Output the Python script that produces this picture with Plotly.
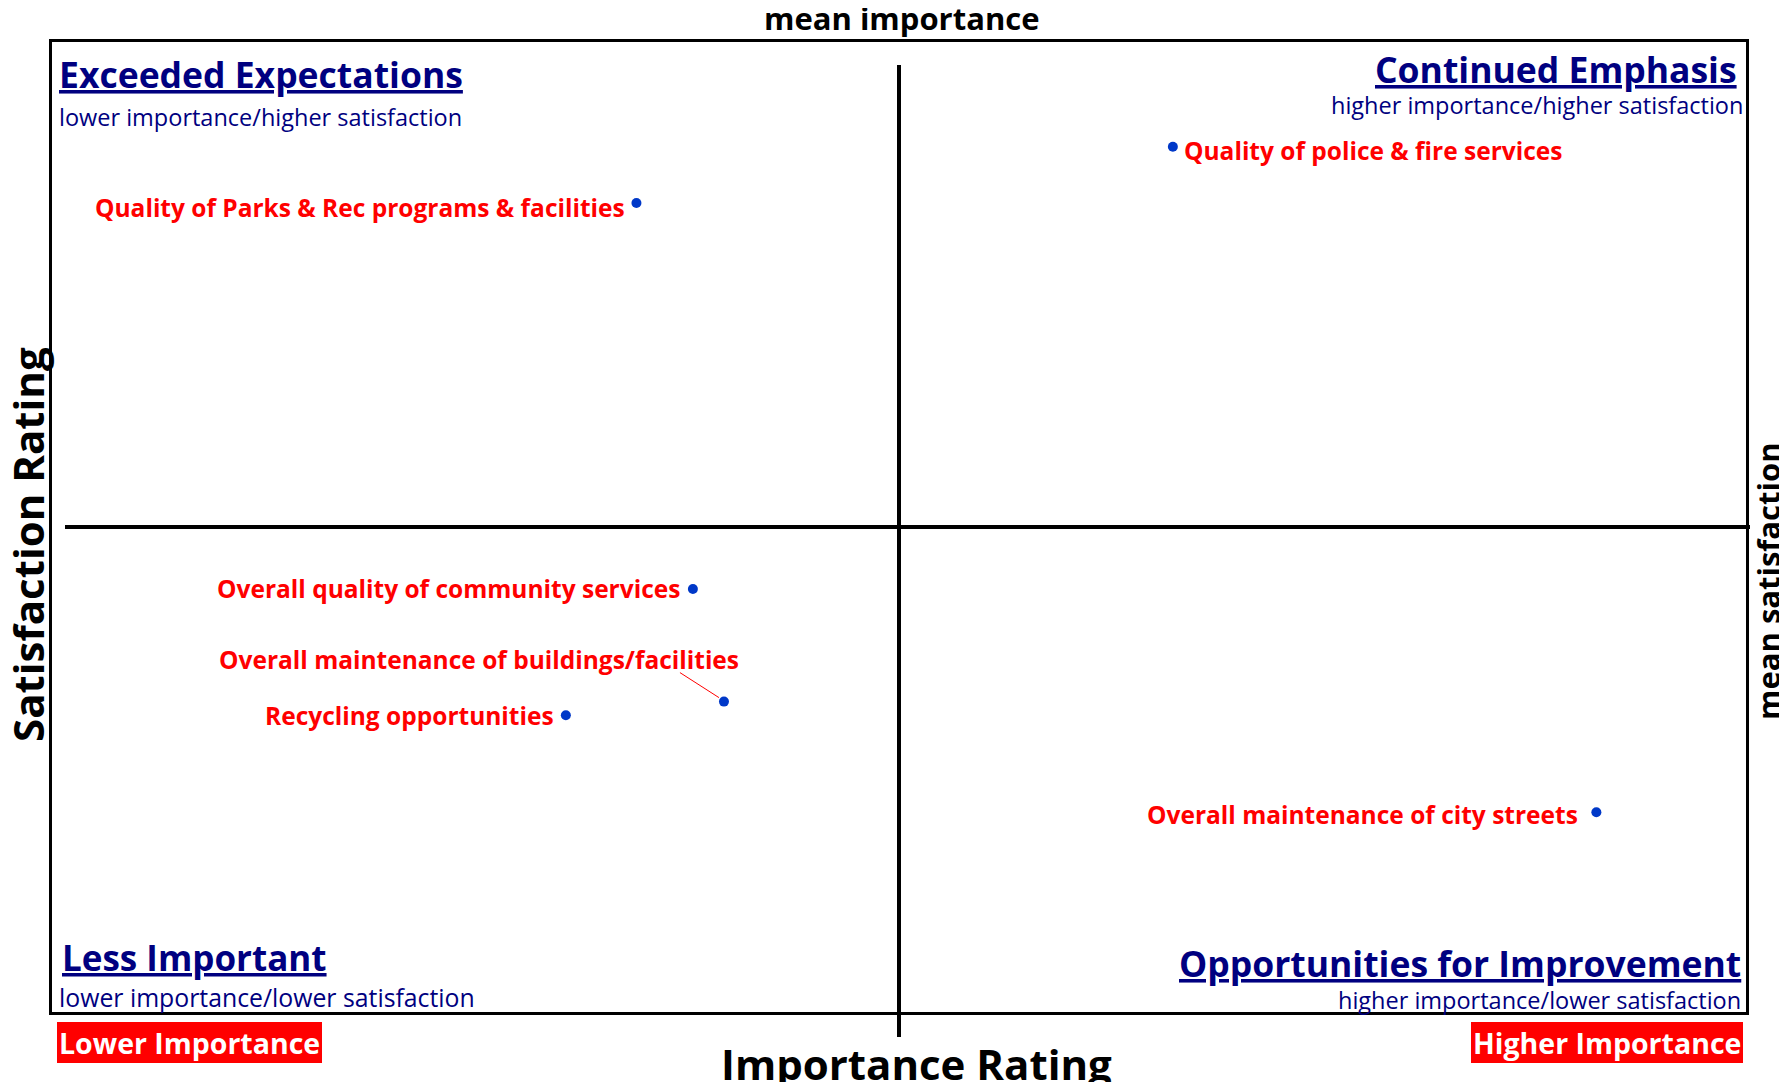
import plotly.graph_objects as go

# ---------------- data ----------------
items = [
    "Quality of Parks & Rec programs & facilities",
    "Quality of police & fire services",
    "Overall quality of community services",
    "Overall maintenance of buildings/facilities",
    "Recycling opportunities",
    "Overall maintenance of city streets",
]
importance = [0.207, 0.397, 0.227, 0.238, 0.182, 0.547]
satisfaction = [0.917, 0.946, 0.718, 0.660, 0.653, 0.603]
mean_importance = 0.30
mean_satisfaction = 0.75
x_range = [0.0, 0.6]
y_range = [0.5, 1.0]

quadrant_titles = ["Exceeded Expectations", "Continued Emphasis",
                   "Less Important", "Opportunities for Improvement"]
quadrant_subtitles = ["lower importance/higher satisfaction",
                      "higher importance/higher satisfaction",
                      "lower importance/lower satisfaction",
                      "higher importance/lower satisfaction"]

# ---------------- layout geometry (page pixels) ----------------
OFF = 8  # default page body margin
WIDTH, HEIGHT = 1787 - 2 * OFF, 1090 - 2 * OFF
L, R, T, B = 52, 1746, 42, 1012   # plot box in page pixels
PW, PH = R - L, B - T

def px(X):
    return (X - L) / PW

def py(Y):
    return (B - Y) / PH

FONT = "Open Sans"
NAVY = "#000080"
RED = "#FF0000"
BLUE = "#0038C8"

fig = go.Figure()
fig.add_trace(go.Scatter(
    x=importance, y=satisfaction, mode="markers",
    marker=dict(color=BLUE, size=10),
    hoverinfo="text", text=items, showlegend=False,
))

# label placement per point: (xanchor, xshift, yshift)
label_pos = [
    ("right", -9, -4),
    ("left", 9, -4),
    ("right", -11, 1),
    ("right", 17, 42),
    ("right", -10, 0),
    ("right", -16, -2),
]
annotations = []
for name, xv, yv, (xa, xs, ys) in zip(items, importance, satisfaction, label_pos):
    annotations.append(dict(
        x=xv, y=yv, xref="x", yref="y", text="<b>%s</b>" % name,
        showarrow=False, xanchor=xa, yanchor="middle", xshift=xs, yshift=ys,
        font=dict(family=FONT, size=24.5, color=RED),
    ))

shapes = []
# leader line for buildings/facilities label
shapes.append(dict(
    type="line", xref="x", yref="y",
    xsizemode="pixel", ysizemode="pixel",
    xanchor=importance[3], yanchor=satisfaction[3],
    x0=-5, x1=-44, y0=4, y1=29,
    line=dict(color=RED, width=1),
))
# quadrant divider lines
shapes.append(dict(type="line", xref="x", yref="paper",
                   x0=mean_importance, x1=mean_importance,
                   y0=py(65), y1=py(1037),
                   line=dict(color="black", width=4)))
shapes.append(dict(type="line", xref="paper", yref="y",
                   x0=px(65), x1=px(1750),
                   y0=mean_satisfaction, y1=mean_satisfaction,
                   line=dict(color="black", width=4)))
# red boxes for importance direction
shapes.append(dict(type="rect", xref="paper", yref="paper",
                   x0=px(57), x1=px(322), y0=py(1063), y1=py(1022),
                   fillcolor=RED, line=dict(width=0), layer="above"))
shapes.append(dict(type="rect", xref="paper", yref="paper",
                   x0=px(1471), x1=px(1743), y0=py(1063), y1=py(1022),
                   fillcolor=RED, line=dict(width=0), layer="above"))

def paper_text(text, X, Y, xa, size, color, bold=True, angle=0, ya="middle"):
    t = "<b>%s</b>" % text if bold else text
    annotations.append(dict(
        x=px(X), y=py(Y), xref="paper", yref="paper", text=t,
        showarrow=False, xanchor=xa, yanchor=ya, textangle=angle,
        font=dict(family=FONT, size=size, color=color),
    ))

# axis titles
paper_text("mean importance", 902, 18, "center", 31, "black")
paper_text("Importance Rating", 916, 1063, "center", 42, "black")
paper_text("Satisfaction Rating", 27, 545, "center", 42, "black", angle=-90)
paper_text("mean satisfaction", 1768, 581, "center", 31, "black", angle=-90)

# quadrant titles
paper_text("<u>%s</u>" % quadrant_titles[0], 57, 74, "left", 35.5, NAVY)
paper_text(quadrant_subtitles[0], 57, 117, "left", 23.5, NAVY, bold=False)
paper_text("<u>%s</u>" % quadrant_titles[1], 1739, 69, "right", 35.5, NAVY)
paper_text(quadrant_subtitles[1], 1745, 105, "right", 23.5, NAVY, bold=False)
paper_text("<u>%s</u>" % quadrant_titles[2], 60, 957, "left", 35, NAVY)
paper_text(quadrant_subtitles[2], 57, 997, "left", 24.8, NAVY, bold=False)
paper_text("<u>%s</u>" % quadrant_titles[3], 1743, 963, "right", 35.5, NAVY)
paper_text(quadrant_subtitles[3], 1743, 1000, "right", 23.5, NAVY, bold=False)

# direction labels
paper_text("Lower Importance", 189.5, 1042.5, "center", 28.5, "white")
paper_text("Higher Importance", 1607, 1042.5, "center", 28.5, "white")

fig.update_layout(
    width=WIDTH, height=HEIGHT, autosize=False,
    margin=dict(l=L - OFF, r=(WIDTH + OFF) - R, t=T - OFF,
                b=(HEIGHT + OFF) - B, pad=0),
    paper_bgcolor="white", plot_bgcolor="white",
    shapes=shapes, annotations=annotations,
    xaxis=dict(range=x_range, showgrid=False, zeroline=False,
               showticklabels=False, ticks="", showline=True, mirror=True,
               linecolor="black", linewidth=3, fixedrange=True),
    yaxis=dict(range=y_range, showgrid=False, zeroline=False,
               showticklabels=False, ticks="", showline=True, mirror=True,
               linecolor="black", linewidth=3, fixedrange=True),
)

fig.write_html("out.html")
